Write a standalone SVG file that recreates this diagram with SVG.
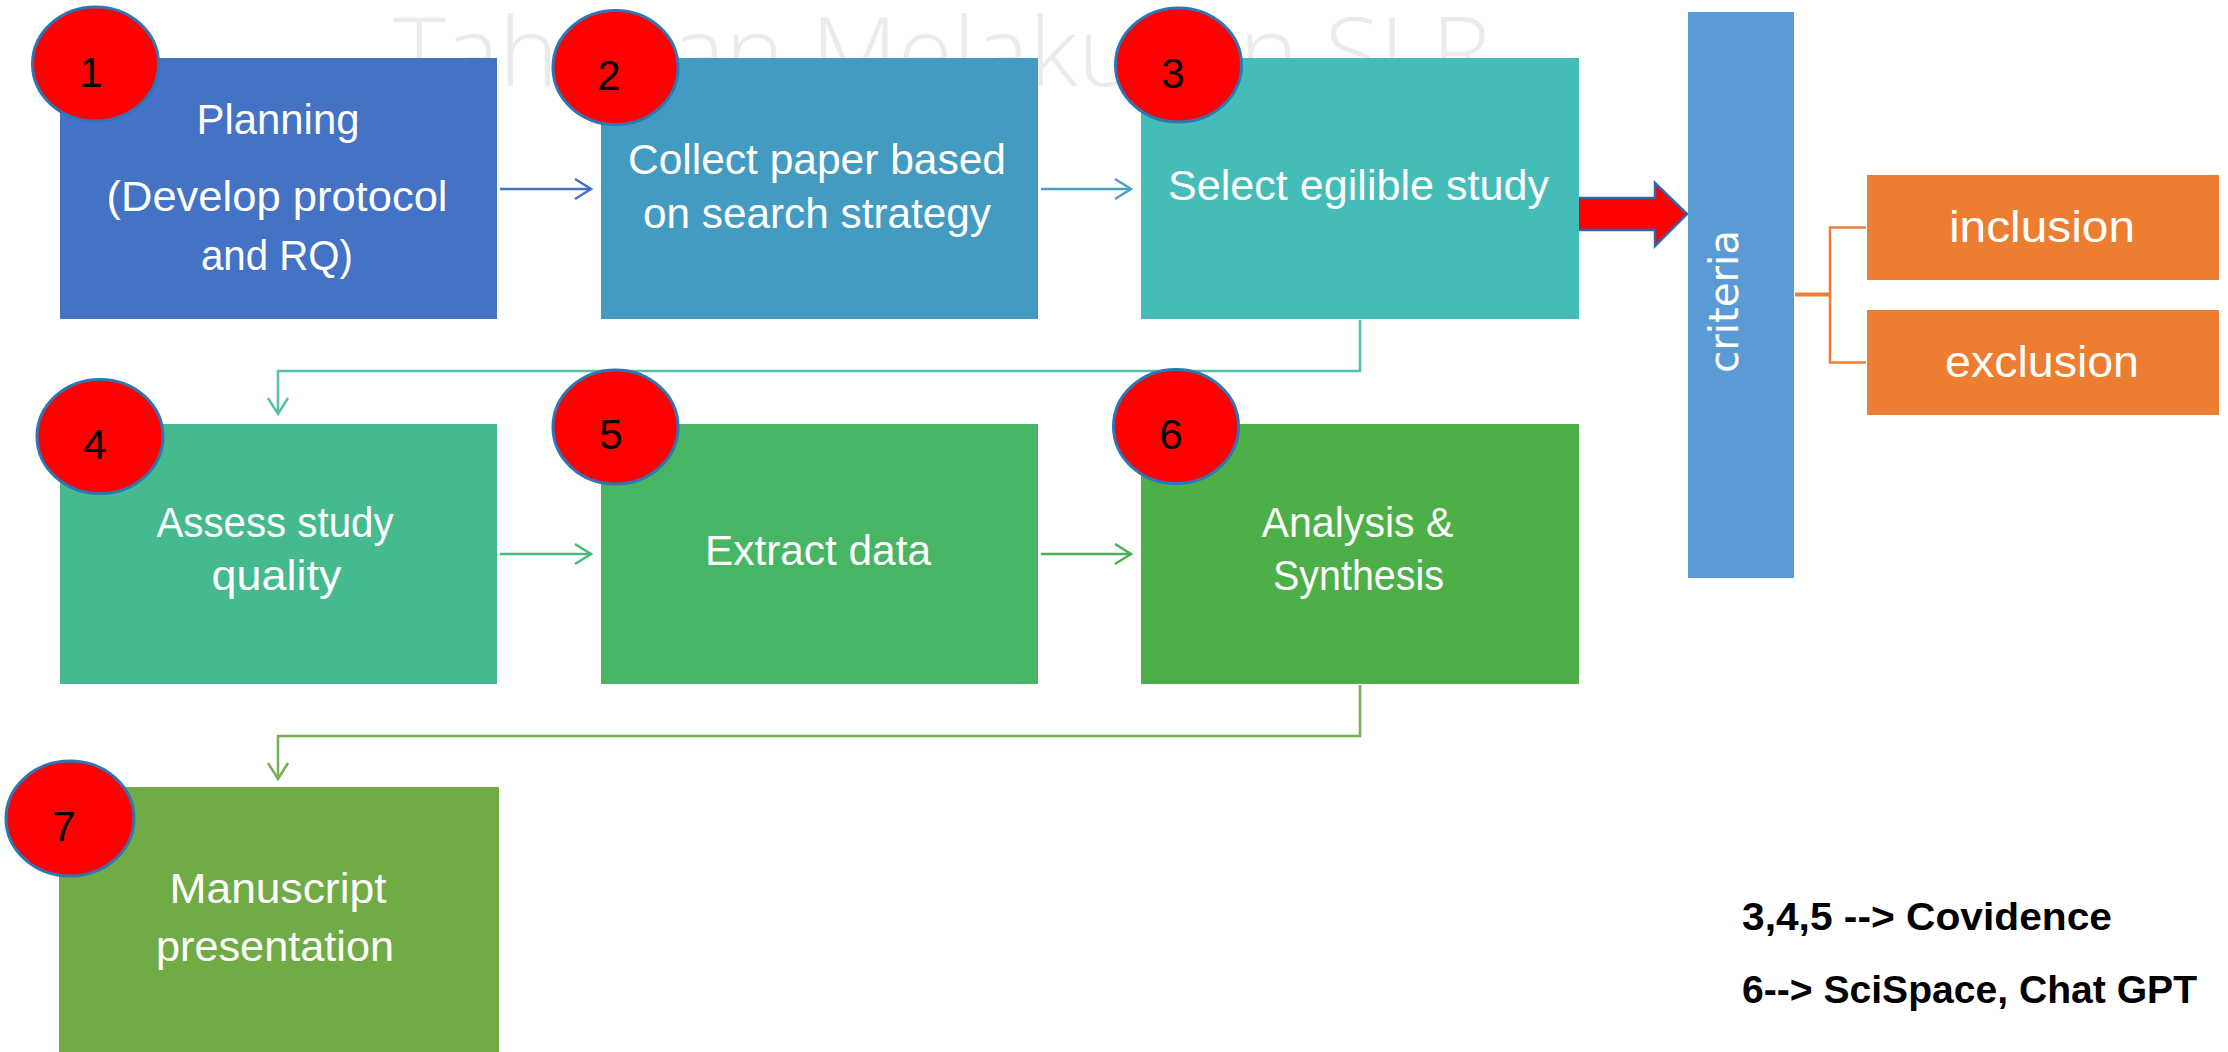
<svg xmlns="http://www.w3.org/2000/svg" width="2228" height="1052" viewBox="0 0 2228 1052">
<style>
.box{stroke:none}
.t{font-family:"Liberation Sans",Arial,sans-serif;font-size:42px;fill:#ffffff;text-anchor:middle}
.num{font-family:"Liberation Sans",Arial,sans-serif;font-size:42px;fill:#000000;text-anchor:middle}
.badge{fill:#ff0000;stroke:#2e75b6;stroke-width:3}
.wm{font-family:"Open Sans","Liberation Sans",sans-serif;font-weight:300;font-size:96px;fill:#ebebeb}
.leg{font-family:"Liberation Sans",Arial,sans-serif;font-weight:bold;font-size:39px;fill:#000000}
.c{fill:none;stroke-width:2.5}
</style>
<defs>
<marker id="a1" markerUnits="userSpaceOnUse" markerWidth="22" markerHeight="26" viewBox="0 0 22 26" refX="19" refY="13" orient="auto"><path d="M3,3 L19,13 L3,23" fill="none" stroke="#4472c4" stroke-width="2.5"/></marker>
<marker id="a2" markerUnits="userSpaceOnUse" markerWidth="22" markerHeight="26" viewBox="0 0 22 26" refX="19" refY="13" orient="auto"><path d="M3,3 L19,13 L3,23" fill="none" stroke="#4a9fc8" stroke-width="2.5"/></marker>
<marker id="a3" markerUnits="userSpaceOnUse" markerWidth="22" markerHeight="26" viewBox="0 0 22 26" refX="19" refY="13" orient="auto"><path d="M3,3 L19,13 L3,23" fill="none" stroke="#55c0ab" stroke-width="2.5"/></marker>
<marker id="a4" markerUnits="userSpaceOnUse" markerWidth="22" markerHeight="26" viewBox="0 0 22 26" refX="19" refY="13" orient="auto"><path d="M3,3 L19,13 L3,23" fill="none" stroke="#4cb878" stroke-width="2.5"/></marker>
<marker id="a5" markerUnits="userSpaceOnUse" markerWidth="22" markerHeight="26" viewBox="0 0 22 26" refX="19" refY="13" orient="auto"><path d="M3,3 L19,13 L3,23" fill="none" stroke="#4cb052" stroke-width="2.5"/></marker>
<marker id="a6" markerUnits="userSpaceOnUse" markerWidth="22" markerHeight="26" viewBox="0 0 22 26" refX="19" refY="13" orient="auto"><path d="M3,3 L19,13 L3,23" fill="none" stroke="#74b050" stroke-width="2.5"/></marker>
</defs>
<rect width="2228" height="1052" fill="#ffffff"/>
<text class="wm" x="393" y="86" textLength="1098" lengthAdjust="spacingAndGlyphs">Tahapan Melakukan SLR</text>

<g id="connectors">
<path class="c" stroke="#4472c4" d="M500,189 H591" marker-end="url(#a1)"/>
<path class="c" stroke="#4a9fc8" d="M1041,189 H1131" marker-end="url(#a2)"/>
<path class="c" stroke="#55c0ab" d="M1360,320 V371 H278 V414" marker-end="url(#a3)"/>
<path class="c" stroke="#4cb878" d="M500,554 H591" marker-end="url(#a4)"/>
<path class="c" stroke="#4cb052" d="M1041,554 H1131" marker-end="url(#a5)"/>
<path class="c" stroke="#74b050" d="M1360,685 V736 H278 V779" marker-end="url(#a6)"/>
<polygon points="1572,198 1655,198 1655,183 1687,214 1655,246 1655,230 1572,230" fill="#ff0000" stroke="#2e65b0" stroke-width="2.5" stroke-linejoin="miter"/>
<path d="M1795,294.5 H1830" fill="none" stroke="#ed7d31" stroke-width="4"/>
<path d="M1866,227.5 H1830 V362.5 H1866" fill="none" stroke="#ed7d31" stroke-width="2.5"/>
</g>

<g id="node1">
<rect class="box" x="60" y="58" width="437" height="261" fill="#4472c4"/>
<text class="t" x="278" y="133.5" textLength="163" lengthAdjust="spacingAndGlyphs">Planning</text>
<text class="t" x="277" y="211" textLength="341" lengthAdjust="spacingAndGlyphs">(Develop protocol</text>
<text class="t" x="277" y="270" textLength="152" lengthAdjust="spacingAndGlyphs">and RQ)</text>
<ellipse class="badge" cx="95.5" cy="64" rx="63" ry="57"/>
<text class="num" x="91" y="87">1</text>
</g>

<g id="node2">
<rect class="box" x="601" y="58" width="437" height="261" fill="#449bc2"/>
<text class="t" x="817" y="173.5" textLength="378" lengthAdjust="spacingAndGlyphs">Collect paper based</text>
<text class="t" x="817" y="228" textLength="348" lengthAdjust="spacingAndGlyphs">on search strategy</text>
<ellipse class="badge" cx="615.5" cy="67.5" rx="62.5" ry="57"/>
<text class="num" x="609" y="90">2</text>
</g>

<g id="node3">
<rect class="box" x="1141" y="58" width="438" height="261" fill="#44bdb9"/>
<text class="t" x="1358.5" y="199.5" textLength="381" lengthAdjust="spacingAndGlyphs">Select egilible study</text>
<ellipse class="badge" cx="1178.5" cy="65" rx="63" ry="57"/>
<text class="num" x="1173" y="88">3</text>
</g>

<g id="criteria">
<rect class="box" x="1688" y="12" width="106" height="566" fill="#5b9bd5"/>
<text transform="translate(1738,301.5) rotate(-90)" x="0" y="0" style="font-family:'DejaVu Sans',Verdana,sans-serif;font-size:40px;fill:#ffffff;text-anchor:middle" textLength="143" lengthAdjust="spacingAndGlyphs">criteria</text>
</g>

<g id="inclusion">
<rect class="box" x="1867" y="175" width="352" height="105" fill="#ed7d31"/>
<text class="t" x="2042" y="242" style="font-size:45px" textLength="186" lengthAdjust="spacingAndGlyphs">inclusion</text>
</g>

<g id="exclusion">
<rect class="box" x="1867" y="310" width="352" height="105" fill="#ed7d31"/>
<text class="t" x="2042" y="377" style="font-size:45px" textLength="194" lengthAdjust="spacingAndGlyphs">exclusion</text>
</g>

<g id="node4">
<rect class="box" x="60" y="424" width="437" height="260" fill="#44ba8e"/>
<text class="t" x="275" y="536.5" textLength="237" lengthAdjust="spacingAndGlyphs">Assess study</text>
<text class="t" x="276.5" y="590" textLength="130" lengthAdjust="spacingAndGlyphs">quality</text>
<ellipse class="badge" cx="100" cy="436.5" rx="63" ry="57"/>
<text class="num" x="95" y="459">4</text>
</g>

<g id="node5">
<rect class="box" x="601" y="424" width="437" height="260" fill="#48b565"/>
<text class="t" x="818" y="564.5" textLength="226" lengthAdjust="spacingAndGlyphs">Extract data</text>
<ellipse class="badge" cx="615.5" cy="427" rx="62.5" ry="57"/>
<text class="num" x="611" y="449">5</text>
</g>

<g id="node6">
<rect class="box" x="1141" y="424" width="438" height="260" fill="#4caf48"/>
<text class="t" x="1357.5" y="536.5" textLength="192" lengthAdjust="spacingAndGlyphs">Analysis &amp;</text>
<text class="t" x="1358.5" y="590" textLength="171" lengthAdjust="spacingAndGlyphs">Synthesis</text>
<ellipse class="badge" cx="1176" cy="426.5" rx="62.5" ry="57"/>
<text class="num" x="1171" y="449">6</text>
</g>

<g id="node7">
<rect class="box" x="59" y="787" width="440" height="265" fill="#70ab46"/>
<text class="t" x="278" y="902.5" textLength="217" lengthAdjust="spacingAndGlyphs">Manuscript</text>
<text class="t" x="275" y="960.5" textLength="238" lengthAdjust="spacingAndGlyphs">presentation</text>
<ellipse class="badge" cx="70" cy="818.5" rx="64" ry="57.5"/>
<text class="num" x="64" y="841">7</text>
</g>

<g id="legend">
<text class="leg" x="1742" y="930" textLength="370" lengthAdjust="spacingAndGlyphs">3,4,5 --&gt; Covidence</text>
<text class="leg" x="1742" y="1003" textLength="455" lengthAdjust="spacingAndGlyphs">6--&gt; SciSpace, Chat GPT</text>
</g>
</svg>
